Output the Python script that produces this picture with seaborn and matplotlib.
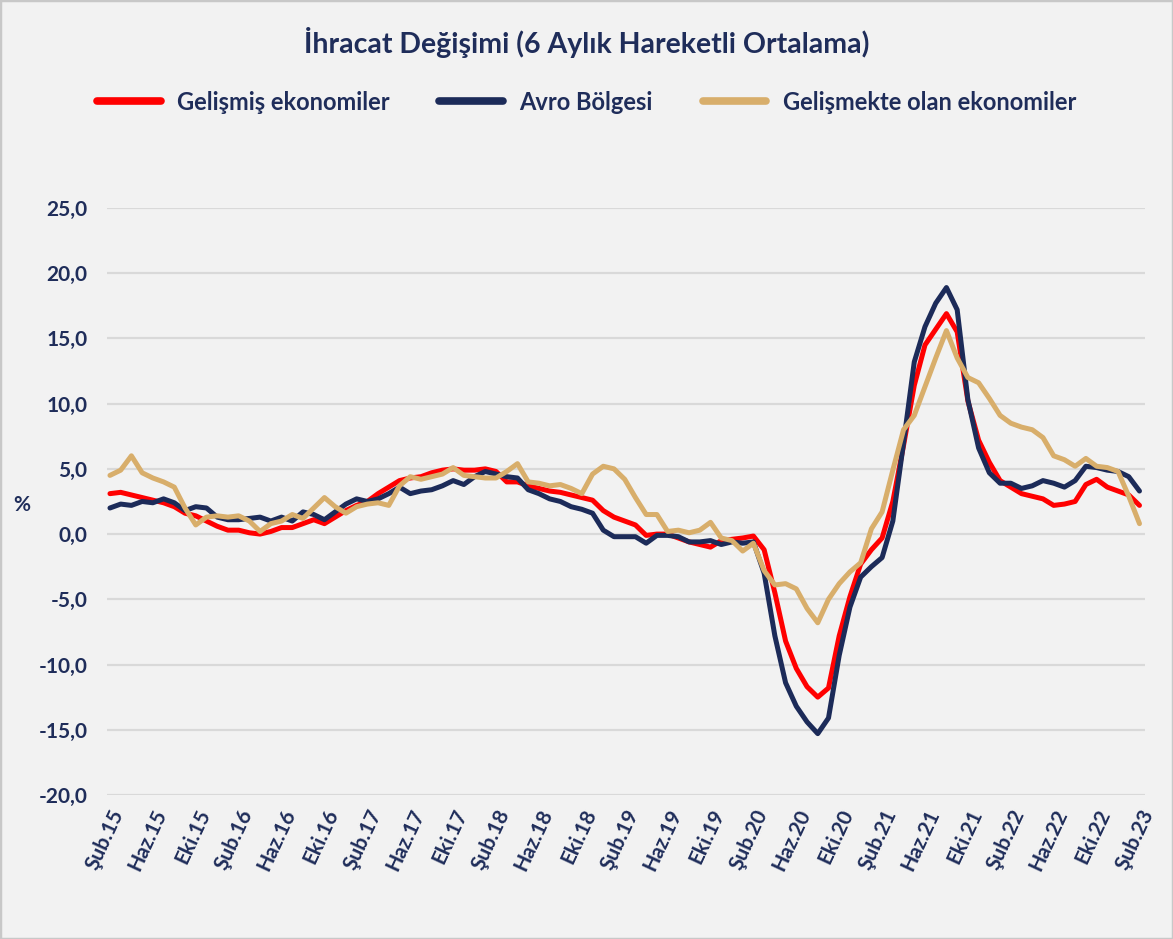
import numpy as np
import pandas as pd
import matplotlib
matplotlib.use("Agg")
import matplotlib.pyplot as plt
import seaborn as sns
from matplotlib.ticker import FuncFormatter
from matplotlib.patches import Rectangle

# aylik seriler, Subat 2015 - Subat 2023
gelismis = [
    3.1, 3.2, 3.0, 2.8, 2.6, 2.4, 2.1, 1.6, 1.4, 1.0,
    0.6, 0.3, 0.3, 0.1, 0.0, 0.2, 0.5, 0.5, 0.8, 1.1,
    0.8, 1.3, 1.8, 2.2, 2.5, 3.1, 3.6, 4.1, 4.3, 4.4,
    4.7, 4.9, 5.0, 4.9, 4.9, 5.0, 4.8, 4.0, 4.0, 3.7,
    3.5, 3.3, 3.2, 3.0, 2.8, 2.6, 1.8, 1.3, 1.0, 0.7,
    -0.1, 0.0, 0.0, -0.3, -0.6, -0.8, -1.0, -0.5, -0.4, -0.3,
    -0.15, -1.2, -4.5, -8.2, -10.3, -11.7, -12.5, -11.8, -7.8, -4.8,
    -2.3, -1.2, -0.3, 2.5, 6.8, 11.4, 14.5, 15.7, 16.9, 15.5,
    10.2, 7.2, 5.5, 4.1, 3.6, 3.1, 2.9, 2.7, 2.2, 2.3,
    2.5, 3.8, 4.2, 3.6, 3.3, 3.0, 2.2]
avro = [
    2.0, 2.3, 2.2, 2.5, 2.4, 2.7, 2.4, 1.8, 2.1, 2.0,
    1.3, 1.1, 1.1, 1.2, 1.3, 1.0, 1.3, 1.0, 1.7, 1.5,
    1.1, 1.7, 2.3, 2.7, 2.5, 2.7, 3.1, 3.6, 3.1, 3.3,
    3.4, 3.7, 4.1, 3.8, 4.4, 4.8, 4.6, 4.4, 4.3, 3.4,
    3.1, 2.7, 2.5, 2.1, 1.9, 1.6, 0.3, -0.2, -0.2, -0.2,
    -0.7, -0.1, -0.1, -0.2, -0.6, -0.6, -0.5, -0.8, -0.6, -0.7,
    -0.6, -3.0, -7.8, -11.4, -13.2, -14.4, -15.3, -14.1, -9.3, -5.6,
    -3.3, -2.5, -1.8, 1.0, 7.0, 13.2, 15.9, 17.7, 18.9, 17.2,
    10.3, 6.6, 4.7, 3.9, 3.9, 3.5, 3.7, 4.1, 3.9, 3.6,
    4.1, 5.2, 5.1, 4.9, 4.8, 4.4, 3.3]
gelismekte = [
    4.5, 4.9, 6.0, 4.7, 4.3, 4.0, 3.6, 2.0, 0.7, 1.3,
    1.4, 1.3, 1.4, 1.0, 0.2, 0.8, 1.0, 1.5, 1.2, 2.0,
    2.8, 2.1, 1.6, 2.1, 2.3, 2.4, 2.2, 3.7, 4.4, 4.2,
    4.4, 4.6, 5.1, 4.5, 4.4, 4.3, 4.3, 4.8, 5.4, 4.0,
    3.9, 3.7, 3.8, 3.5, 3.1, 4.6, 5.2, 5.0, 4.2, 2.8,
    1.5, 1.5, 0.2, 0.3, 0.1, 0.3, 0.9, -0.3, -0.5, -1.3,
    -0.7, -2.8, -3.9, -3.8, -4.2, -5.7, -6.8, -5.0, -3.8, -2.9,
    -2.2, 0.4, 1.7, 4.9, 8.0, 9.1, 11.3, 13.5, 15.6, 13.5,
    12.0, 11.6, 10.4, 9.1, 8.5, 8.2, 8.0, 7.4, 6.0, 5.7,
    5.2, 5.8, 5.2, 5.1, 4.8, 2.9, 0.8]

aylar = ["Oca", "Şub", "Mar", "Nis", "May", "Haz", "Tem", "Ağu", "Eyl", "Eki", "Kas", "Ara"]
n = len(gelismis)
etiketler = [f"{aylar[(1 + i) % 12]}.{15 + (1 + i) // 12}" for i in range(n)]

seriler = {
    "Gelişmiş ekonomiler": gelismis,
    "Avro Bölgesi": avro,
    "Gelişmekte olan ekonomiler": gelismekte,
}
renkler = ["#FF0000", "#1C2B59", "#D8AE6B"]
LACI = "#1F2D5A"

df = pd.concat([pd.DataFrame({"t": np.arange(n), "deger": v, "seri": k}) for k, v in seriler.items()])

sns.set_style("white")
plt.rcParams["font.family"] = ["Lato", "DejaVu Sans"]

fig = plt.figure(figsize=(11.73, 9.39), dpi=100)
fig.patch.set_facecolor("#F2F2F2")
ax = fig.add_axes([0.091, 0.1534, 0.885, 0.6251])
ax.set_facecolor("#F2F2F2")

sns.lineplot(data=df, x="t", y="deger", hue="seri", palette=renkler, linewidth=3.6,
             ax=ax, legend=True)

ax.set_ylim(-20, 25)
ax.set_xlim(-0.3, n - 0.5)
ax.set_yticks(np.arange(-20, 26, 5))
ax.yaxis.set_major_formatter(FuncFormatter(lambda v, p: f"{v:.1f}".replace(".", ",")))
ax.set_xticks(np.arange(0, n, 4))
ax.set_xticklabels([etiketler[i] for i in range(0, n, 4)], rotation=65, ha="right",
                   rotation_mode="anchor", fontsize=15, fontweight="bold", color=LACI)
for lbl in ax.get_yticklabels():
    lbl.set_fontsize(15)
    lbl.set_fontweight("bold")
    lbl.set_color(LACI)
ax.tick_params(axis="y", length=0, pad=14)
ax.tick_params(axis="x", length=0, pad=8)
ax.grid(axis="y", color="#D9D9D9", linewidth=1.6)
ax.grid(axis="x", visible=False)
for s in ax.spines.values():
    s.set_visible(False)
ax.set_xlabel("")
ax.set_ylabel("")
fig.text(22 / 1173, 1 - 505 / 939, "%", fontsize=15, fontweight="bold", color=LACI,
         ha="center", va="center")

fig.text(0.5, 1 - 42 / 939, "İhracat Değişimi (6 Aylık Hareketli Ortalama)", fontsize=20.5,
         fontweight="bold", color=LACI, ha="center", va="center")

h, l = ax.get_legend_handles_labels()
ax.get_legend().remove()
leg = fig.legend(h, l, loc="center", bbox_to_anchor=(0.5, 1 - 102 / 939), ncol=3,
                 frameon=False, handlelength=2.7, handletextpad=0.7, columnspacing=2.1,
                 prop={"size": 17, "weight": "bold"})
for t in leg.get_texts():
    t.set_color(LACI)
for line in leg.get_lines():
    line.set_linewidth(5.5)

fig.patches.append(Rectangle((0, 0), 1, 1, transform=fig.transFigure, fill=False,
                             edgecolor="#C8C8C8", linewidth=2.5))

fig.savefig("out.png", dpi=100, facecolor=fig.get_facecolor())
